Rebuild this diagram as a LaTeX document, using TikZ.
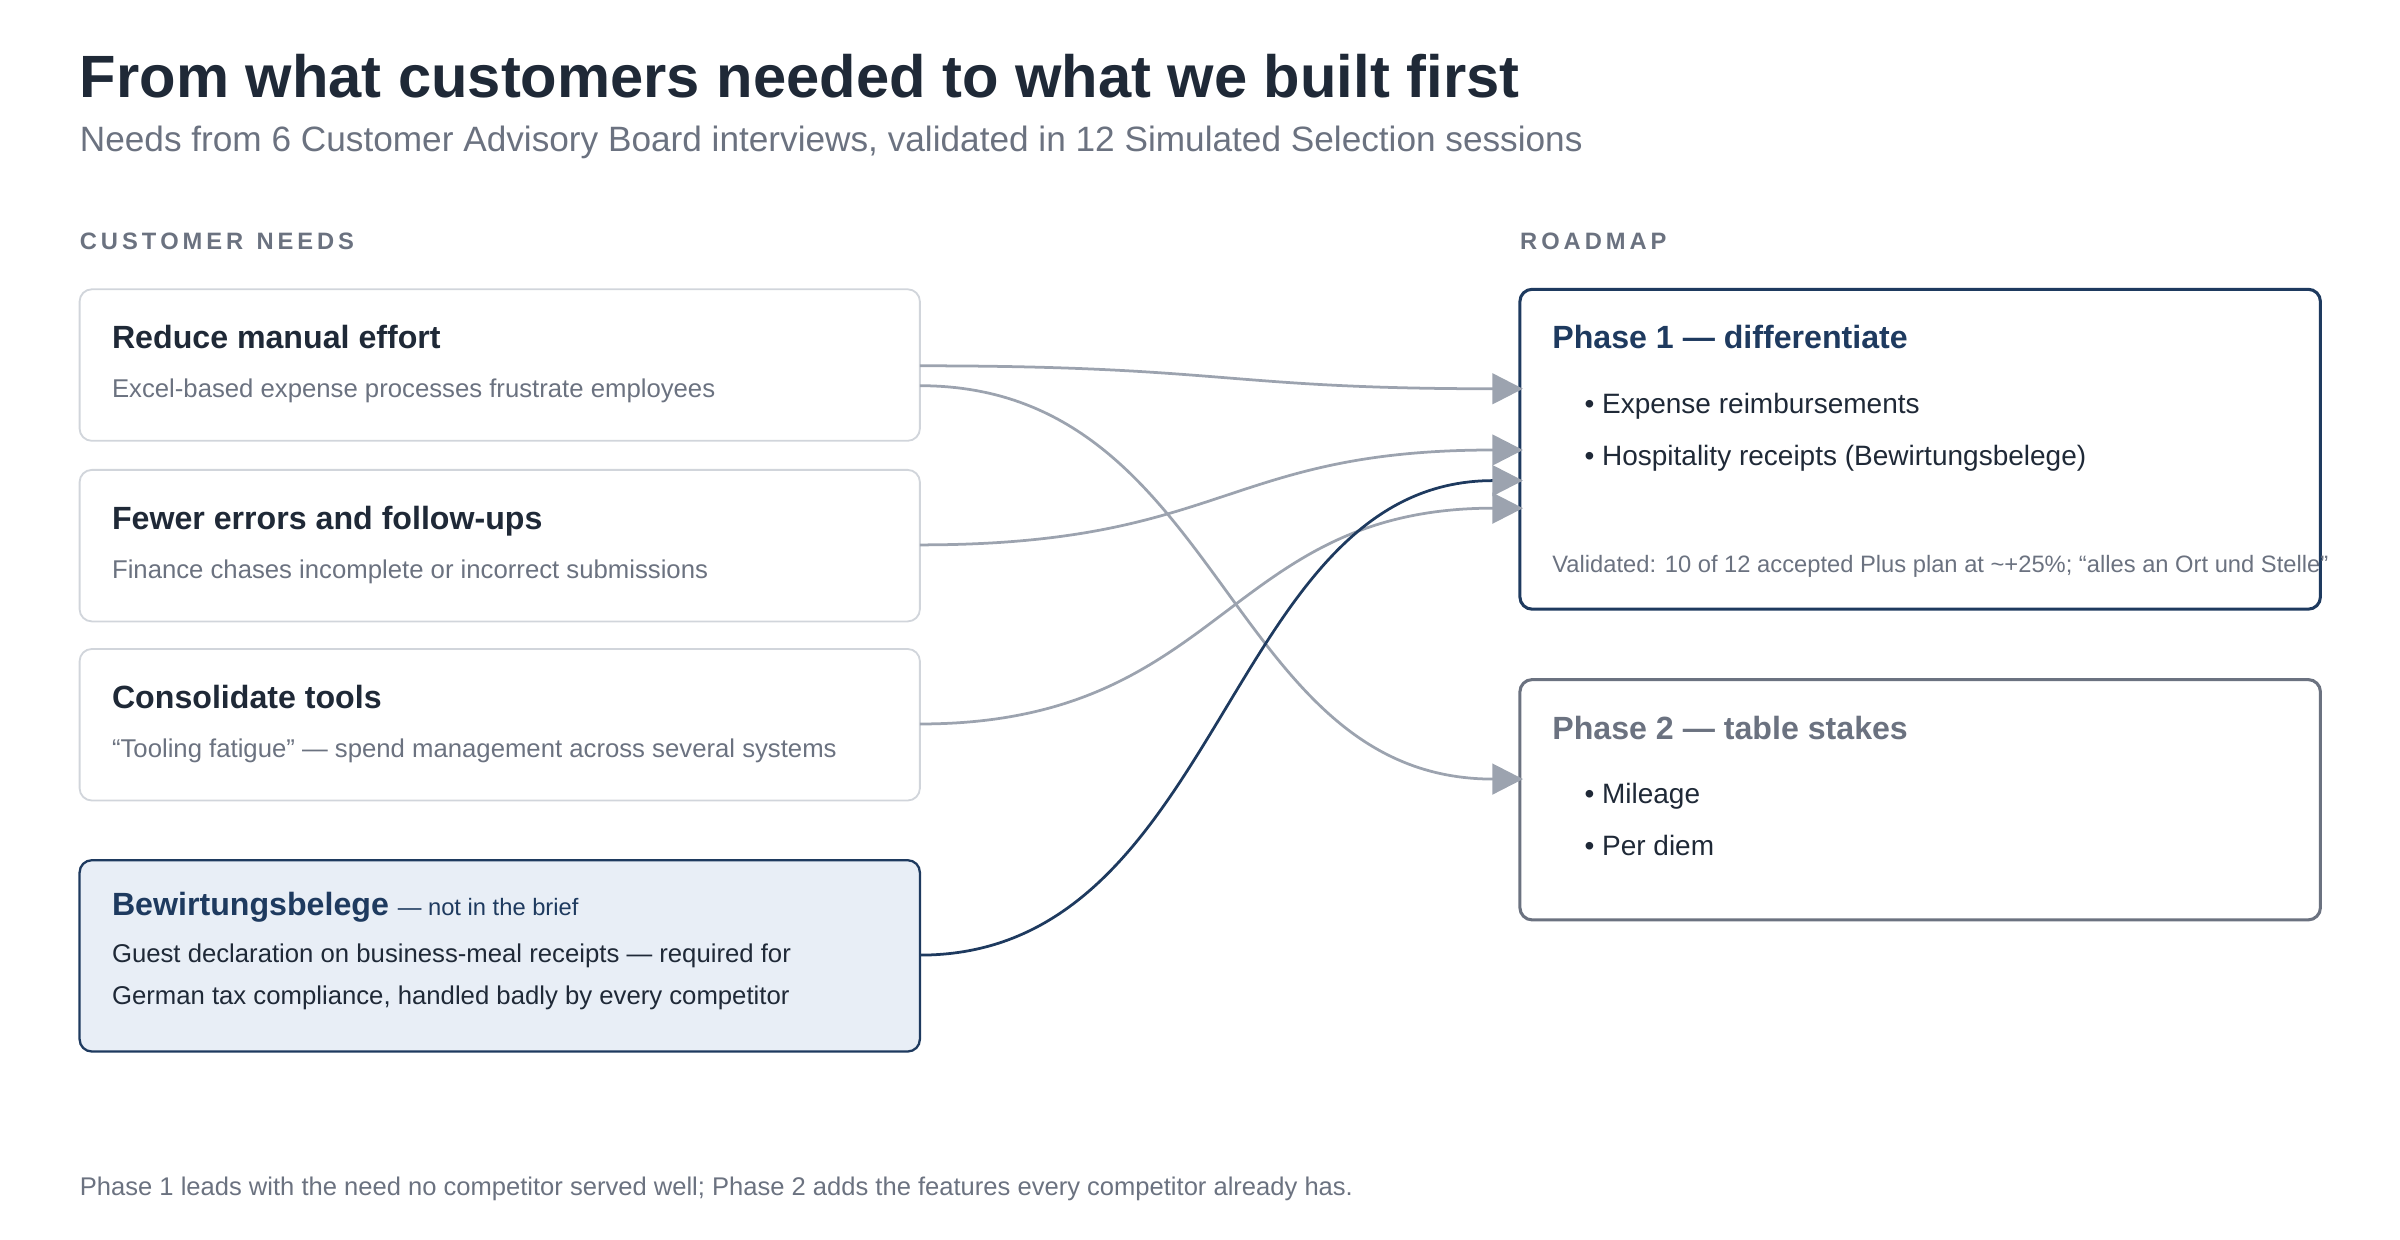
\documentclass[tikz,border=0pt]{standalone}
\usepackage{fontspec}
\setmainfont{Liberation Sans}
\usetikzlibrary{arrows.meta}
\definecolor{ink}{HTML}{1F2937}
\definecolor{mute}{HTML}{6B7280}
\definecolor{navy}{HTML}{1E3A5F}
\definecolor{edge}{HTML}{9CA3AF}
\definecolor{boxb}{HTML}{D1D5DB}
\definecolor{hl}{HTML}{E8EEF6}
\begin{document}
\begin{tikzpicture}[x=1pt,y=-1pt,
  txt/.style={anchor=base west,inner sep=0pt},
  need/.style={draw=boxb,line width=1.2pt,rounded corners=8pt},
  conn/.style={draw=edge,line width=1.8pt,-{Triangle[length=20pt,width=20pt,fill=edge,color=edge]}},
  ]
\useasboundingbox (0,0) rectangle (1568,810);
\node[txt,font=\fontsize{39}{44}\selectfont\bfseries,text=ink] (title) at (52,64) {From what customers needed to what we built first};
\node[txt,font=\fontsize{23}{26}\selectfont,text=mute] (sub) at (52,99) {Needs from 6 Customer Advisory Board interviews, validated in 12 Simulated Selection sessions};
\node[txt,font=\fontsize{15.5}{18}\selectfont\bfseries,text=mute] (h1) at (52,163) {C\,U\,S\,T\,O\,M\,E\,R\ \ N\,E\,E\,D\,S};
\node[txt,font=\fontsize{15.5}{18}\selectfont\bfseries,text=mute] (h2) at (993,163) {R\,O\,A\,D\,M\,A\,P};

% need boxes
\draw[need] (52,189) rectangle (601,288);
\draw[need] (52,307) rectangle (601,406);
\draw[need] (52,424) rectangle (601,523);
\draw[draw=navy,fill=hl,line width=1.5pt,rounded corners=8pt] (52,562) rectangle (601,687);
\foreach \n/\y/\t/\s in {a/228/Reduce manual effort/Excel-based expense processes frustrate employees,
  b/346/Fewer errors and follow-ups/Finance chases incomplete or incorrect submissions,
  c/463/Consolidate tools/“Tooling fatigue” — spend management across several systems}{
  \node[txt,font=\fontsize{21}{24}\selectfont\bfseries,text=ink] (t\n) at (73,\y) {\t};
  \node[txt,font=\fontsize{16.8}{19}\selectfont,text=mute] (s\n) at (73,\y+32) {\s};
}
\node[txt,text=navy] (td) at (73,598) {\fontsize{21}{24}\selectfont\bfseries Bewirtungsbelege\ \fontsize{15.5}{18}\mdseries\selectfont — not in the brief};
\node[txt,font=\fontsize{16.8}{19}\selectfont,text=ink] (sd1) at (73,629) {Guest declaration on business-meal receipts — required for};
\node[txt,font=\fontsize{16.8}{19}\selectfont,text=ink] (sd2) at (73,656) {German tax compliance, handled badly by every competitor};

% phase boxes
\draw[draw=navy,line width=2pt,rounded corners=8pt] (993,189) rectangle (1516,398);
\draw[draw=mute,line width=2pt,rounded corners=8pt] (993,444) rectangle (1516,601);
\node[txt,font=\fontsize{21}{24}\selectfont\bfseries,text=navy] (p1) at (1014,228) {Phase 1 — differentiate};
\node[txt,font=\fontsize{18.3}{21}\selectfont,text=ink] (p1a) at (1035,270) {• Expense reimbursements};
\node[txt,font=\fontsize{18.3}{21}\selectfont,text=ink] (p1b) at (1035,304) {• Hospitality receipts (Bewirtungsbelege)};
\node[txt,font=\fontsize{15.5}{18}\selectfont,text=mute] (p1v) at (1014,374) {Validated: 10 of 12 accepted Plus plan at \textasciitilde+25\%; “alles an Ort und Stelle”};
\node[txt,font=\fontsize{21}{24}\selectfont\bfseries,text=mute] (p2) at (1014,483) {Phase 2 — table stakes};
\node[txt,font=\fontsize{18.3}{21}\selectfont,text=ink] (p2a) at (1035,525) {• Mileage};
\node[txt,font=\fontsize{18.3}{21}\selectfont,text=ink] (p2b) at (1035,559) {• Per diem};

\node[txt,font=\fontsize{16.7}{19}\selectfont,text=mute] (foot) at (52,781) {Phase 1 leads with the need no competitor served well; Phase 2 adds the features every competitor already has.};

% connector ends
\coordinate (oa1) at (601,239); \coordinate (oa2) at (601,252);
\coordinate (ob) at (601,356); \coordinate (oc) at (601,473); \coordinate (od) at (601,624);
\coordinate (i1) at (995,254); \coordinate (i2) at (995,294); \coordinate (i3) at (995,314);
\coordinate (i4) at (995,332); \coordinate (i5) at (995,509);

\draw[conn] (oa1) .. controls (800,239) and (800,254) .. (i1);
\draw[conn] (oa2) .. controls (800,252) and (800,509) .. (i5);
\draw[conn] (ob) .. controls (800,356) and (800,294) .. (i2);
\draw[conn] (oc) .. controls (800,473) and (800,332) .. (i4);
\draw[conn,draw=navy] (od) .. controls (800,624) and (800,314) .. (i3);
\end{tikzpicture}
\end{document}
